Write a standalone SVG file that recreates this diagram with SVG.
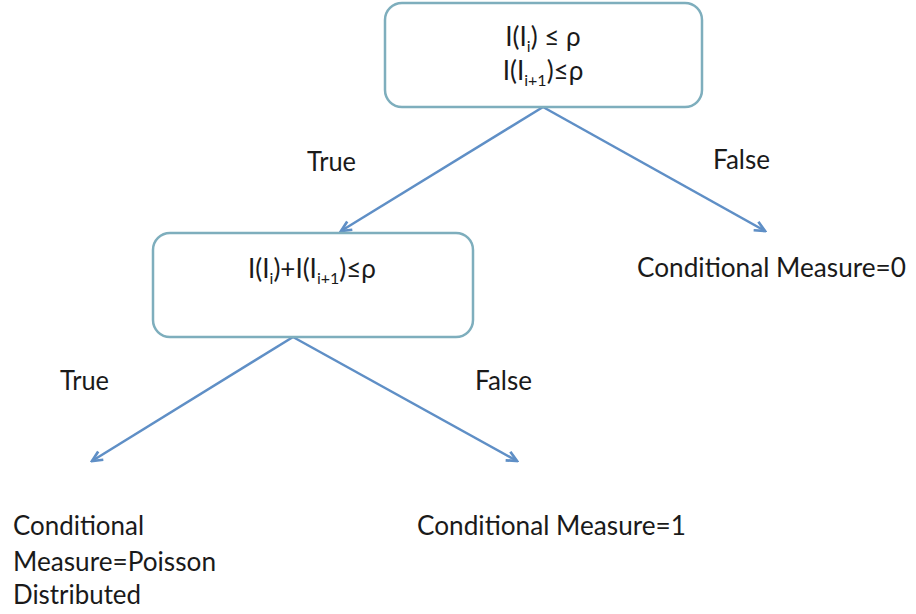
<svg xmlns="http://www.w3.org/2000/svg" width="916" height="614" viewBox="0 0 916 614">
<defs>
<style>
.box{fill:#ffffff;stroke:#7eaebd;stroke-width:2.5}
.conn{stroke:#5f8fc6;stroke-width:2.5;fill:none;marker-end:url(#arr)}
.t{font-family:Lato,"Open Sans","Liberation Sans",sans-serif;font-size:26px;fill:#1a1a1a}
.c{text-anchor:middle}
.sub{font-size:16px}
</style>
<marker id="arr" markerUnits="userSpaceOnUse" viewBox="0 0 12 12" refX="10.5" refY="6" markerWidth="13" markerHeight="13" orient="auto">
<path d="M1,1.5 L10.5,6 L1,10.5" fill="none" stroke="#5f8fc6" stroke-width="2.5" stroke-linejoin="miter"/>
</marker>
</defs>
<rect width="916" height="614" fill="#ffffff"/>
<g id="connectors">
<line class="conn" x1="543" y1="107" x2="341" y2="231"/>
<line class="conn" x1="543" y1="107" x2="765" y2="231"/>
<line class="conn" x1="293" y1="337" x2="92" y2="461"/>
<line class="conn" x1="293" y1="337" x2="517" y2="461"/>
</g>
<g id="node-top">
<rect class="box" x="385" y="3" width="317" height="104" rx="17"/>
<text class="t c" x="543" y="46">I(I<tspan class="sub" dy="6">i</tspan><tspan dy="-6">) ≤ ρ</tspan></text>
<text class="t c" x="543" y="80">I(I<tspan class="sub" dy="6">i+1</tspan><tspan dy="-6">)≤ρ</tspan></text>
</g>
<g id="node-second">
<rect class="box" x="153" y="233" width="320" height="104" rx="17"/>
<text class="t c" x="312" y="278">I(I<tspan class="sub" dy="6">i</tspan><tspan dy="-6">)+I(I</tspan><tspan class="sub" dy="6">i+1</tspan><tspan dy="-6">)≤ρ</tspan></text>
</g>
<g id="label-true-1"><text class="t" x="307" y="171" textLength="49" lengthAdjust="spacingAndGlyphs">True</text></g>
<g id="label-false-1"><text class="t" x="713" y="169" textLength="57" lengthAdjust="spacingAndGlyphs">False</text></g>
<g id="node-cm0"><text class="t" x="637" y="277" textLength="269" lengthAdjust="spacingAndGlyphs">Conditional Measure=0</text></g>
<g id="label-true-2"><text class="t" x="60" y="390" textLength="49" lengthAdjust="spacingAndGlyphs">True</text></g>
<g id="label-false-2"><text class="t" x="475" y="390" textLength="57" lengthAdjust="spacingAndGlyphs">False</text></g>
<g id="node-poisson">
<text class="t" x="13" y="535" textLength="131" lengthAdjust="spacingAndGlyphs">Conditional</text>
<text class="t" x="13" y="571" textLength="203" lengthAdjust="spacingAndGlyphs">Measure=Poisson</text>
<text class="t" x="13" y="604" textLength="128" lengthAdjust="spacingAndGlyphs">Distributed</text>
</g>
<g id="node-cm1"><text class="t" x="417" y="535" textLength="269" lengthAdjust="spacingAndGlyphs">Conditional Measure=1</text></g>
</svg>
